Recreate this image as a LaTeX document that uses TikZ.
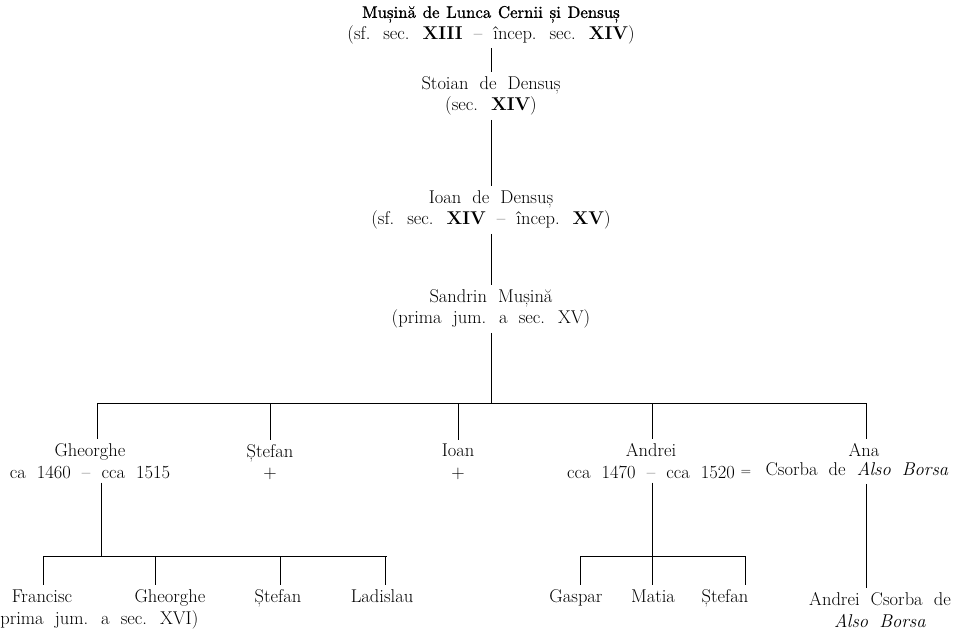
\documentclass[tikz,border=0pt]{standalone}
\usepackage{fontspec}
\newfontfamily\inkfont{lmroman10-regular.otf}[FakeBold=1.2]
\newcommand\chartfont{\fontsize{18.5}{21.5}\selectfont\spaceskip=0.6em plus 0.1em\relax}
\newcommand\topfont{\inkfont\fontsize{16.8}{21.5}\selectfont\spaceskip=0.4em plus 0.1em\relax}
\begin{document}
\begin{tikzpicture}[x=1pt, y=-1pt, line width=0.6pt, person/.style={align=center, inner sep=4pt, font=\chartfont}, leaf/.style={person, text height=13pt, text depth=4pt}]
\useasboundingbox (0,0) rectangle (969,631);

					\node[person] at (491,25) (musina) {{\topfont Mușină de Lunca Cernii și Densuș}\\(sf. sec. \textbf{XIII} -- încep. sec. \textbf{XIV})};
					\node[person] at (491,96) (stoian) {Stoian de Densuș\\(sec. \textbf{XIV})};
					\node[person] at (491,210) (ioan) {Ioan de Densuș\\(sf. sec. \textbf{XIV} -- încep. \textbf{XV})};
					\node[person] at (491,309) (sandrin) {Sandrin Mușină\\(prima jum. a sec. XV)};

					\node[person] at (90,461) (gheorghe) {Gheorghe\\ca 1460 -- cca 1515};
					\node[person] at (270,462) (stefan) {Ștefan\\+};
					\node[person] at (458,462) (ioanb) {Ioan\\+};
					\node[person] at (651,461) (andrei) {Andrei\\cca 1470 -- cca 1520};
					\node[leaf] at (864,452) (ana) {Ana};
					\node[leaf, font=\fontsize{14}{16}\selectfont] at (746,471) (eq) {=};
					\node[leaf] at (857,471) (csorba) {Csorba de \textit{Also Borsa}};

					\node[leaf] at (42,598) (francisc) {Francisc};
					\node[person, anchor=west, inner sep=0pt] at (0,620) (secxvi) {prima jum. a sec. XVI)};
					\node[leaf] at (170,598) (gheorgheb) {Gheorghe};
					\node[leaf] at (278,598) (stefanb) {Ștefan};
					\node[leaf] at (382,598) (ladislau) {Ladislau};
					\node[leaf] at (576,598) (gaspar) {Gaspar};
					\node[leaf] at (653,598) (matia) {Matia};
					\node[leaf] at (725,598) (stefanc) {Ștefan};
					\node[person] at (880,610) (andreics) {Andrei Csorba de\\\textit{Also Borsa}};

					\coordinate (fork) at (491,403);
					\coordinate (barL) at (97,403);
					\coordinate (barR) at (866,403);
					\coordinate (dstefan) at (270,403);
					\coordinate (dioan) at (458,403);
					\coordinate (dandrei) at (652,403);
					\coordinate (forkg) at (101,556);
					\coordinate (barg) at (43,556);
					\coordinate (bargr) at (387,556);
					\coordinate (dgheorghe) at (155,556);
					\coordinate (dstefanb) at (280,556);
					\coordinate (dladislau) at (385,556);
					\coordinate (forka) at (652,556);
					\coordinate (bara) at (580,556);
					\coordinate (barar) at (745,556);

					\path (musina) edge (stoian);
					\path (stoian) edge (ioan);
					\path (ioan) edge (sandrin);
					\path (sandrin) edge (fork);
					\path (barL) edge (barR);
					\path (barL) edge (barL |- gheorghe.north);
					\path (dstefan) edge (stefan);
					\path (dioan) edge (ioanb);
					\path (dandrei) edge (dandrei |- andrei.north);
					\path (barR) edge (barR |- ana.north);

					\path (forkg |- gheorghe.south) edge (forkg);
					\path (barg) edge (bargr);
					\path (barg) edge (barg |- francisc.north);
					\path (dgheorghe) edge (dgheorghe |- gheorgheb.north);
					\path (dstefanb) edge (dstefanb |- stefanb.north);
					\path (dladislau) edge (dladislau |- ladislau.north);

					\path (forka |- andrei.south) edge (forka);
					\path (bara) edge (barar);
					\path (bara) edge (bara |- gaspar.north);
					\path (forka) edge (forka |- matia.north);
					\path (barar) edge (barar |- stefanc.north);
					\path (barR |- csorba.south) edge (barR |- andreics.north);
\end{tikzpicture}
\end{document}
